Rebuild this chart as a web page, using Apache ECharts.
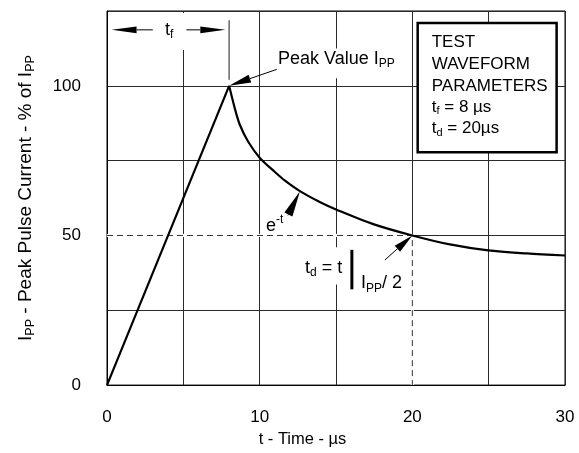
<!DOCTYPE html>
<html><head><meta charset="utf-8">
<script src="https://cdn.jsdelivr.net/npm/echarts@6/dist/echarts.min.js"></script>
<style>html,body{margin:0;padding:0;background:#fff}#c{width:579px;height:453px}</style>
</head><body><div id="c"></div>
<script>
// ---- data ----
const riseT = [0, 8];
const riseV = [0, 100];
const decayT = [8, 8.12, 8.38, 8.7, 9.25, 10, 11, 11.66, 12.64, 14, 15.04, 17.44, 20, 22.46, 24.97, 27.5, 30];
const decayV = [100, 97.5, 92.3, 87, 81.3, 76, 71.2, 68.3, 64.8, 61.0, 58.6, 53.8, 50, 47.0, 45, 44, 43.3];
const xTickLabels = ['0', '10', '20', '30'];
const yTickLabels = ['0', '50', '100'];
const halfT = 20;      // t_d
const halfV = 50;      // I_PP / 2
const riseTime = 8;    // t_f
const peakV = 100;

const F = '"Liberation Sans", Arial, Helvetica, sans-serif';
const chart = echarts.init(document.getElementById('c'), null, {renderer: 'canvas'});

const riseData = riseT.map((t, i) => [t, riseV[i]]);
const decayData = decayT.map((t, i) => [t, decayV[i]]);
const guideData = [[0, halfV], [halfT, halfV], [halfT, 0]];

const nameRich = {
  m: {fontSize: 19, fontFamily: F, color: '#000', lineHeight: 22, verticalAlign: 'top'},
  s: {fontSize: 12.5, fontFamily: F, color: '#000', padding: [8, 0, 0, 0], verticalAlign: 'top'}
};

chart.setOption({
  animation: false,
  backgroundColor: '#fff',
  grid: {left: 107, right: 14, top: 11, bottom: 63, show: true, borderColor: '#000', borderWidth: 1, containLabel: false},
  xAxis: {
    type: 'value', min: 0, max: 30, interval: 5,
    axisLine: {show: true, lineStyle: {color: '#000', width: 1}},
    axisTick: {show: false},
    axisLabel: {formatter: v => xTickLabels.includes(String(v)) ? String(v) : '', margin: 24, fontSize: 17, color: '#000', fontFamily: F, showMinLabel: true, showMaxLabel: true},
    splitLine: {show: true, lineStyle: {color: '#2a2a2a', width: 1}},
    name: 't - Time - µs', nameLocation: 'middle', nameGap: 43,
    nameTextStyle: {fontSize: 16.5, color: '#000', fontFamily: F, padding: [0, 67, 0, 0]}
  },
  yAxis: {
    type: 'value', min: 0, max: 125, interval: 25,
    axisLine: {show: true, lineStyle: {color: '#000', width: 1}},
    axisTick: {show: false},
    axisLabel: {formatter: v => yTickLabels.includes(String(v)) ? String(v) : '', margin: 26, fontSize: 17, color: '#000', fontFamily: F, showMinLabel: true},
    splitLine: {show: true, lineStyle: {color: '#2a2a2a', width: 1}},
    name: '{m|I}{s|PP}{m| - Peak Pulse Current - % of I}{s|PP}',
    nameLocation: 'middle', nameGap: 69,
    nameTextStyle: {rich: nameRich}
  },
  series: [
    {type: 'line', data: guideData, symbol: 'none', silent: true,
     lineStyle: {color: '#fff', width: 3}},
    {type: 'line', data: guideData, symbol: 'none', silent: true,
     lineStyle: {color: '#333', width: 1, type: [6, 4]}},
    {type: 'line', data: riseData, symbol: 'none', lineStyle: {color: '#000', width: 2.2}},
    {type: 'line', data: decayData, symbol: 'none', smooth: 0.3, lineStyle: {color: '#000', width: 2.2}}
  ]
});

function px(t, v) { return chart.convertToPixel({gridIndex: 0}, [t, v]); }
function arrow(tipT, tipV, tailT, tailV, headLen, halfW, lw) {
  const [x1, y1] = px(tipT, tipV), [x0, y0] = px(tailT, tailV);
  const dx = x1 - x0, dy = y1 - y0, L = Math.hypot(dx, dy), ux = dx / L, uy = dy / L;
  const bx = x1 - ux * headLen, by = y1 - uy * headLen, nx = -uy, ny = ux;
  const els = [];
  if (L > headLen + 0.5) els.push({type: 'line', z: 60, shape: {x1: x0, y1: y0, x2: bx, y2: by}, style: {stroke: '#000', lineWidth: lw}});
  els.push({type: 'polygon', z: 60, shape: {points: [[x1, y1], [bx + nx * halfW, by + ny * halfW], [bx - nx * halfW, by - ny * halfW]]}, style: {fill: '#000'}});
  return els;
}
function mask(t0, v0, t1, v1) {
  const [a, b] = px(t0, v0), [c, d] = px(t1, v1);
  return {type: 'rect', z: 55, shape: {x: Math.min(a, c), y: Math.min(b, d), width: Math.abs(c - a), height: Math.abs(d - b)}, style: {fill: '#fff'}};
}
const R = {
  m: {fontSize: 17, fontFamily: F, fill: '#000', lineHeight: 20, verticalAlign: 'top'},
  s: {fontSize: 11, fontFamily: F, fill: '#000', padding: [7, 0, 0, 0], verticalAlign: 'top'},
  M: {fontSize: 18, fontFamily: F, fill: '#000', lineHeight: 21, verticalAlign: 'top'},
  S: {fontSize: 12, fontFamily: F, fill: '#000', padding: [8, 0, 0, 0], verticalAlign: 'top'},
  e: {fontSize: 18, fontFamily: F, fill: '#000', padding: [4, 0, 0, 0], verticalAlign: 'top'},
  u: {fontSize: 12, fontFamily: F, fill: '#000', verticalAlign: 'top'}
};
function text(t, v, str, rich, size) {
  const [x, y] = px(t, v);
  const st = {text: str, fill: '#000', fontSize: size || 17, fontFamily: F, align: 'left', verticalAlign: 'middle'};
  if (rich) st.rich = R;
  return {type: 'text', z: 62, x: x, y: y, style: st};
}
function seg(t0, v0, t1, v1, color, lw) {
  const [a, b] = px(t0, v0), [c, d] = px(t1, v1);
  return {type: 'line', z: 60, shape: {x1: a, y1: b, x2: c, y2: d}, style: {stroke: color, lineWidth: lw}};
}
function box(t0, v0, t1, v1) {
  const [a, b] = px(t0, v0), [c, d] = px(t1, v1);
  return {type: 'rect', z: 58, shape: {x: Math.min(a, c), y: Math.min(b, d), width: Math.abs(c - a), height: Math.abs(d - b)}, style: {fill: '#fff', stroke: '#000', lineWidth: 2.5}};
}

const g = [];
// t_f dimension
g.push(mask(3.3, 124.3, 5.2, 112));
g.push(...arrow(0.3, 118.7, 3.0, 118.7, 25, 3.3, 1));
g.push(...arrow(7.75, 118.7, 5.2, 118.7, 25, 3.3, 1));
g.push(text(3.8, 118.3, '{M|t}{S|f}', true));
g.push(seg(riseTime, 121.9, riseTime, 102, '#666', 1.5));
// Peak value
g.push(mask(11.07, 112.5, 19.2, 102.5));
g.push(...arrow(riseTime, peakV, 11.12, 105.5, 22, 4, 1));
g.push(text(11.2, 108.4, '{M|Peak Value I}{S|PP}', true));
// e^-t
g.push(...arrow(12.64, 64.8, 11.85, 56.7, 26, 4.5, 1));
g.push(text(10.41, 53.7, '{e|e}{u|-t}', true));
// t_d definition
g.push(mask(12.64, 46.1, 15.85, 33.6));
g.push(...arrow(halfT, halfV, 18.2, 41.8, 20, 4, 1));
g.push(text(12.97, 38.7, '{M|t}{S|d}{M| = t}', true));
g.push(seg(16.04, 45.2, 16.04, 32.0, '#000', 3));
g.push(text(16.63, 33.5, '{M|I}{S|PP}{M|/ 2}', true));
// parameter box
g.push(box(20.35, 121, 29.45, 77.8));
g.push(text(21.27, 114.5, 'TEST', false));
g.push(text(21.27, 107.2, 'WAVEFORM', false));
g.push(text(21.27, 100, 'PARAMETERS', false));
g.push(text(21.27, 92.4, '{m|t}{s|f}{m| = 8 µs}', true));
g.push(text(21.27, 85.2, '{m|t}{s|d}{m| = 20µs}', true));

chart.setOption({graphic: g});
</script>
</body></html>
